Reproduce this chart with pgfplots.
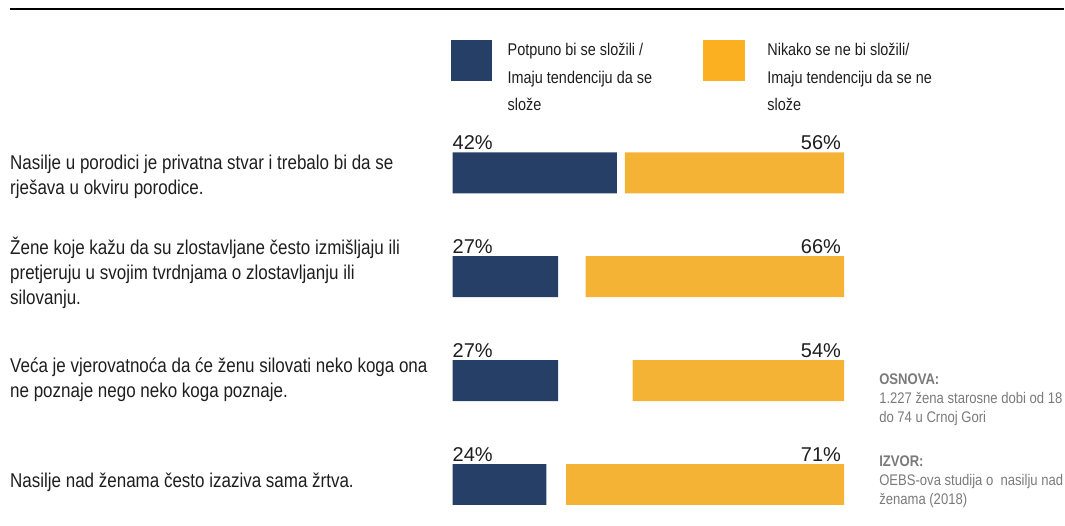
\documentclass[border=0pt]{standalone}
\usepackage{fontspec}
\setmainfont{Liberation Sans}[FakeStretch=0.85]
\newfontfamily\pctfont{Liberation Sans}
\usepackage{pgfplots}
\pgfplotsset{compat=1.18}
\usepackage{pgfplotstable}

\definecolor{navy}{HTML}{263F66}
\definecolor{amber}{HTML}{F4B334}
\definecolor{amberkey}{HTML}{FBB022}
\definecolor{notegray}{HTML}{7A7A7A}
\definecolor{txt}{HTML}{1E1E1E}

% row, agree (blue), disagree (orange)
\pgfplotstableread{
row agree disagree
0 42 56
1 27 66
2 27 54
3 24 71
}\results

\pgfplotsset{
  rowaxis/.style={
    at={(453pt,-121pt)}, anchor=north west,
    scale only axis, width=392pt, height=416pt,
    xmin=0, xmax=100, ymin=-0.5, ymax=3.5,
    y dir=reverse, hide axis, clip=false,
  },
}

\begin{document}
\begin{tikzpicture}[x=1pt,y=1pt]
\path (0,0) rectangle (1065,-526);
\draw[line width=2.3pt] (10,-9) -- (1065,-9);

% legend (base anchor = last line)
\fill[navy] (451,-40) rectangle (493,-81);
\fill[amberkey] (704,-40) rectangle (746,-81);
\node[anchor=base west, align=left, inner sep=0, text=txt,
  font=\fontsize{17}{27.5}\selectfont] at (508,-111)
  {Potpuno bi se složili /\\Imaju tendenciju da se\\slože};
\node[anchor=base west, align=left, inner sep=0, text=txt,
  font=\fontsize{17}{27.5}\selectfont] at (768,-111)
  {Nikako se ne bi složili/\\Imaju tendenciju da se ne\\slože};

% statements
\begin{scope}[every node/.style={anchor=base west, align=left, inner sep=0,
  text=txt, font=\fontsize{20}{25}\selectfont}]
\node at (10,-195) {Nasilje u porodici je privatna stvar i trebalo bi da se\\rješava u okviru porodice.};
\node at (10,-305) {Žene koje kažu da su zlostavljane često izmišljaju ili\\pretjeruju u svojim tvrdnjama o zlostavljanju ili\\silovanju.};
\node at (10,-398) {Veća je vjerovatnoća da će ženu silovati neko koga ona\\ne poznaje nego neko koga poznaje.};
\node at (10,-488) {Nasilje nad ženama često izaziva sama žrtva.};
\end{scope}

% notes
\begin{scope}[every node/.style={anchor=base west, align=left, inner sep=0,
  text=notegray, font=\fontsize{15.4}{19}\selectfont}]
\node at (880,-423) {\textbf{OSNOVA:}\\1.227 žena starosne dobi od 18\\do 74 u Crnoj Gori};
\node at (880,-505) {\textbf{IZVOR:}\\OEBS-ova studija o\ \ nasilju nad\\ženama (2018)};
\end{scope}

% bars
\begin{axis}[rowaxis, xbar stacked, bar width=41pt]
\addplot[fill=navy, draw=none] table[x=agree, y=row] {\results};
\addplot[fill=none, draw=none] table[x expr=100-\thisrow{agree}-\thisrow{disagree}, y=row] {\results};
\addplot[fill=amber, draw=none] table[x=disagree, y=row] {\results};
\end{axis}

% value labels
\begin{axis}[rowaxis,
  nodes near coords={\pgfplotspointmeta\%},
  every node near coord/.append style={inner sep=0, text=txt,
    font=\pctfont\fontsize{20}{24}\selectfont, yshift=23.5pt}]
\addplot[draw=none, mark=none, point meta=explicit symbolic,
  every node near coord/.append style={anchor=base west}]
  table[x expr=0, y=row, meta=agree] {\results};
\addplot[draw=none, mark=none, point meta=explicit symbolic,
  every node near coord/.append style={anchor=base east, xshift=-3pt}]
  table[x expr=100, y=row, meta=disagree] {\results};
\end{axis}
\end{tikzpicture}
\end{document}
